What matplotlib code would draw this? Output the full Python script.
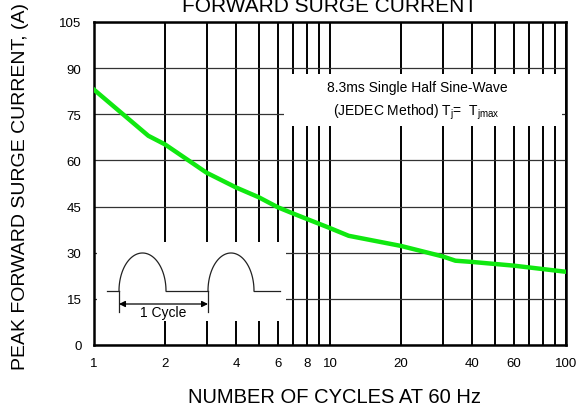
import numpy as np
import matplotlib
matplotlib.use("Agg")
import matplotlib.pyplot as plt

plt.rcParams['font.family'] = ['Liberation Sans', 'DejaVu Sans']
plt.rcParams['mathtext.fontset'] = 'custom'
plt.rcParams['mathtext.rm'] = 'Liberation Sans'

# curve
cycles = [1, 1.7, 2, 3, 4, 5, 6, 7, 10, 12, 20, 30, 34, 40, 60, 100]
surge_current = [83, 68, 65.2, 56, 51.2, 48, 44.8, 42.7, 38, 35.5, 32.2, 28.8, 27.4, 27, 25.8, 23.8]

grid_x = [1, 2, 3, 4, 5, 6, 7, 8, 9, 10, 20, 30, 40, 50, 60, 70, 80, 90, 100]
x_labels = ['1', '2', '', '4', '', '6', '', '8', '', '10', '20', '', '40', '', '60', '', '', '', '100']
y_ticks = [0, 15, 30, 45, 60, 75, 90, 105]

fig = plt.figure(figsize=(5.81, 4.10), dpi=100)
ax = fig.add_axes([94 / 581, 1 - 346 / 410, 472 / 581, 323 / 410])

ax.set_xscale('log')
ax.set_xlim(1, 100)
ax.set_ylim(0, 105)
ax.set_xticks(grid_x)
ax.set_xticklabels(x_labels)
ax.xaxis.set_minor_locator(matplotlib.ticker.NullLocator())
ax.set_yticks(y_ticks)
ax.tick_params(length=0, labelsize=9.5)
ax.tick_params(axis='x', pad=9)
ax.tick_params(axis='y', pad=9)

ax.set_axisbelow(True)
ax.grid(axis='x', color='black', linewidth=1.4)
ax.grid(axis='y', color='#333333', linewidth=0.9)
for s in ax.spines.values():
    s.set_linewidth(1.8)

# white panels hiding the grid
ax.add_patch(plt.Rectangle((0.4025, 0.678), 0.589, 0.161, transform=ax.transAxes,
                           facecolor='white', edgecolor='none', zorder=1))

ax.plot(cycles, surge_current, color='#10e810', linewidth=3.2, zorder=3)

ax.text(0.684, 0.799, '8.3ms Single Half Sine-Wave', transform=ax.transAxes,
        ha='center', va='center', fontsize=10, zorder=4)
ax.text(0.684, 0.724, r'(JEDEC Method) T$_\mathrm{j}$=  T$_\mathrm{jmax}$', transform=ax.transAxes,
        ha='center', va='center', fontsize=10, zorder=4)

# inset waveform sketch
ins = ax.inset_axes([3 / 472, 24 / 323, 189 / 472, 79 / 323])
ins.set_facecolor('white')
for s in ins.spines.values():
    s.set_visible(False)
ins.set_xticks([])
ins.set_yticks([])
ins.set_xlim(0, 189)
ins.set_ylim(0, 79)

base, top = 30, 68
t = np.linspace(0, np.pi, 80)
line_kw = dict(color='#222222', linewidth=0.9)
for x0, x1 in [(22, 69), (111, 157)]:
    c, r = (x0 + x1) / 2, (x1 - x0) / 2
    ins.plot(c - r * np.cos(t), base + (top - base) * np.sin(t), **line_kw)
ins.plot([10, 22], [base, base], **line_kw)
ins.plot([69, 111], [base, base], **line_kw)
ins.plot([157, 183], [base, base], **line_kw)
ins.plot([22, 22], [base, 9], **line_kw)
ins.plot([111, 111], [base, 9], **line_kw)
ins.annotate('', xy=(22, 17), xytext=(111, 17),
             arrowprops=dict(arrowstyle='<|-|>', color='black', lw=0.9,
                             mutation_scale=9, shrinkA=0, shrinkB=0))
ins.text(66, 9, '1 Cycle', ha='center', va='center', fontsize=10)

fig.text(330 / 581, 1 - 12.5 / 410, 'FORWARD SURGE CURRENT', ha='center', va='baseline', fontsize=15)
fig.text(334 / 581, 1 - 403 / 410, 'NUMBER OF CYCLES AT 60 Hz', ha='center', va='baseline', fontsize=14.5)
fig.text(21 / 581, 1 - 187 / 410, 'PEAK FORWARD SURGE CURRENT, (A)', ha='center', va='center',
         rotation=90, fontsize=14)

fig.savefig('out.png', dpi=100)
